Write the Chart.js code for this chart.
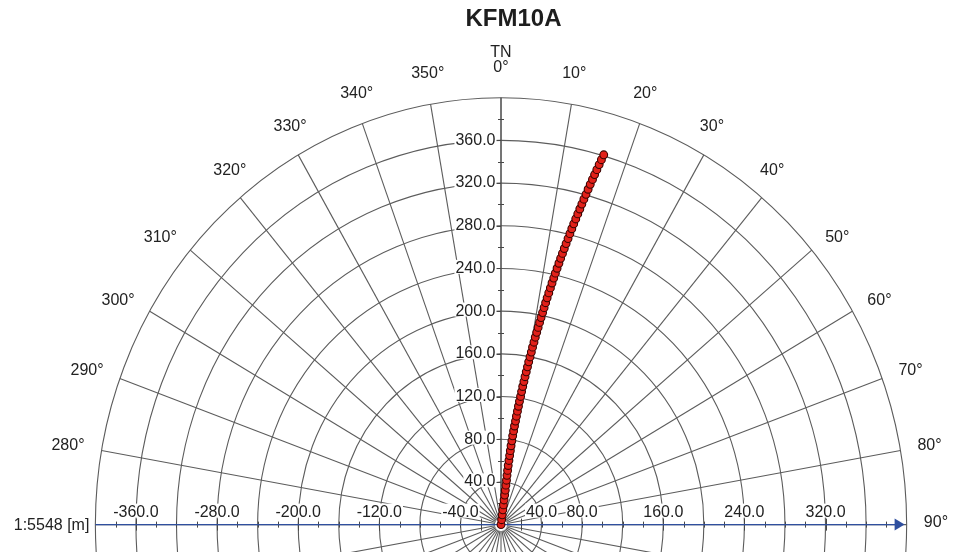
<!DOCTYPE html>
<html>
<head>
<meta charset="utf-8">
<title>KFM10A</title>
<script src="https://cdn.jsdelivr.net/npm/chart.js@4/dist/chart.umd.min.js"></script>
<style>
  html, body { margin: 0; padding: 0; background: #ffffff; }
  #wrap { width: 954px; height: 552px; }
</style>
</head>
<body>
<div id="wrap"><canvas id="chart" width="954" height="552"></canvas></div>
<script>
// Plan view of borehole KFM10A: horizontal offsets of the hole trace from the collar (metres).
const east = [0, 0.6, 1.2, 1.8, 2.4, 3.0, 3.6, 4.2, 4.8, 5.4, 5.9, 6.5, 7.1, 7.8, 8.5, 9.2, 9.9,
  10.7, 11.5, 12.4, 13.3, 14.3, 15.2, 16.2, 17.2, 18.2, 19.3, 20.3, 21.4, 22.6, 23.7, 24.9, 26.1,
  27.3, 28.6, 29.9, 31.1, 32.5, 33.8, 35.2, 36.6, 38.0, 39.5, 41.0, 42.5, 44.0, 45.5, 47.1, 48.7,
  50.3, 52.0, 53.6, 55.3, 57.1, 58.8, 60.6, 62.4, 64.2, 66.1, 67.9, 69.8, 71.7, 73.7, 75.7, 77.7,
  79.7, 81.7, 83.8, 85.9, 88.0, 90.2, 92.3, 94.5, 96.8, 99.0, 101.3];
const north = [0, 4.6, 9.2, 13.9, 18.5, 23.1, 27.7, 32.3, 37.0, 41.6, 46.2, 50.8, 55.4, 60.1, 64.7,
  69.3, 73.9, 78.5, 83.2, 87.8, 92.4, 97.0, 101.6, 106.3, 110.9, 115.5, 120.1, 124.7, 129.4, 134.0,
  138.6, 143.2, 147.8, 152.5, 157.1, 161.7, 166.3, 170.9, 175.6, 180.2, 184.8, 189.4, 194.0, 198.7,
  203.3, 207.9, 212.5, 217.1, 221.8, 226.4, 231.0, 235.6, 240.2, 244.9, 249.5, 254.1, 258.7, 263.3,
  268.0, 272.6, 277.2, 281.8, 286.4, 291.1, 295.7, 300.3, 304.9, 309.5, 314.2, 318.8, 323.4, 328.0,
  332.6, 337.3, 341.9, 346.5];

// Polar grid and axis annotation
const ringRadii = [40, 80, 120, 160, 200, 240, 280, 320, 360, 400];
const spokeAngles = [0, 10, 20, 30, 40, 50, 60, 70, 80, 90, 100, 110, 120, 130, 140, 150, 160, 170,
  180, 190, 200, 210, 220, 230, 240, 250, 260, 270, 280, 290, 300, 310, 320, 330, 340, 350];
const angleLabels = [280, 290, 300, 310, 320, 330, 340, 350, 0, 10, 20, 30, 40, 50, 60, 70, 80, 90];
const northTickLabels = [40, 80, 120, 160, 200, 240, 280, 320, 360];
const eastTickLabels = [-360, -280, -200, -120, -40, 40, 80, 160, 240, 320];
const eastMajorTicks = [-360, -280, -200, -120, -20, 20, 160, 240, 320];
const titleText = 'KFM10A';
const northMark = 'TN';
const scaleText = '1:5548 [m]';

// Geometry of the plot on the canvas
const W = 954, H = 552;
const CX = 503.5, CY = 529.5;        // collar position
const KX = 1.02, KY = 1.078;         // pixels per metre along east / north
const PAD_L = 73;
const TITLE_FONT = 24, TITLE_LH = 1.2, TITLE_PAD = { top: 5, bottom: 3 };
const AREA_TOP = TITLE_PAD.top + TITLE_FONT * TITLE_LH + TITLE_PAD.bottom;
const R_MAX = 400, SPOKE_START = 6, ARROW_TIP = 398, LABEL_R = 416, TICK_STEP = 20;

const FONT = '"Liberation Sans", Arial, Helvetica, sans-serif';
const GRID = '#5c5c5c', AXIS = '#474747', AXIS_BLUE = '#2f4f9f', TEXT = '#222222';

function strokeLine(ctx, x0, y0, x1, y1) {
  ctx.beginPath(); ctx.moveTo(x0, y0); ctx.lineTo(x1, y1); ctx.stroke();
}

function boxedText(ctx, str, x, y, align, baseline) {
  ctx.textAlign = align; ctx.textBaseline = baseline;
  const m = ctx.measureText(str);
  const w = m.width;
  const left = align === 'right' ? x - w : align === 'center' ? x - w / 2 : x;
  ctx.fillStyle = '#ffffff';
  ctx.fillRect(left - 1, y - m.actualBoundingBoxAscent - 1, w + 2,
    m.actualBoundingBoxAscent + m.actualBoundingBoxDescent + 2);
  ctx.fillStyle = TEXT;
  ctx.fillText(str, x, y);
}

const polarGrid = {
  id: 'polarGrid',
  beforeDatasetsDraw(chart) {
    const { ctx, scales: { x, y } } = chart;
    const px = v => x.getPixelForValue(v);
    const py = v => y.getPixelForValue(v);
    const cx = px(0), cy = py(0);
    const kx = px(1) - cx, ky = cy - py(1);
    const pt = (r, deg) => {
      const a = deg * Math.PI / 180;
      return [px(r * Math.sin(a)), py(r * Math.cos(a))];
    };

    ctx.save();
    ctx.lineWidth = 1.1;

    // distance rings
    ctx.strokeStyle = GRID;
    ringRadii.forEach(r => {
      ctx.beginPath();
      ctx.ellipse(cx, cy, r * kx, r * ky, 0, 0, Math.PI * 2);
      ctx.stroke();
    });

    // azimuth spokes
    spokeAngles.forEach(d => {
      const [x0, y0] = pt(SPOKE_START, d);
      const [x1, y1] = pt(R_MAX, d);
      strokeLine(ctx, x0, y0, x1, y1);
    });

    ctx.lineWidth = 1;
    ctx.font = `16px ${FONT}`;

    // north axis with ticks and labels
    ctx.strokeStyle = AXIS;
    strokeLine(ctx, cx, cy, cx, py(R_MAX));
    for (let v = TICK_STEP; v < R_MAX; v += TICK_STEP) {
      const yy = Math.round(py(v)) + 0.5;
      if (northTickLabels.includes(v)) strokeLine(ctx, cx - 5, yy, cx, yy);
      else strokeLine(ctx, cx - 3, yy, cx + 3, yy);
    }
    northTickLabels.forEach(v => boxedText(ctx, v.toFixed(1), cx - 5.5, py(v), 'right', 'middle'));

    // east axis (blue arrow) with ticks and labels
    eastTickLabels.forEach(v => boxedText(ctx, v.toFixed(1), px(v), cy - 8, 'center', 'alphabetic'));
    ctx.strokeStyle = AXIS;
    for (let v = -R_MAX + TICK_STEP; v < R_MAX; v += TICK_STEP) {
      if (v === 0) continue;
      const xx = Math.round(px(v)) + 0.5;
      const h = eastMajorTicks.includes(v) ? 6 : 3;
      strokeLine(ctx, xx, cy - h, xx, cy + h);
    }
    const tip = px(ARROW_TIP);
    ctx.strokeStyle = AXIS_BLUE;
    ctx.lineWidth = 1.2;
    strokeLine(ctx, px(-R_MAX), cy, tip - 9, cy);
    ctx.fillStyle = AXIS_BLUE;
    ctx.beginPath();
    ctx.moveTo(tip, cy); ctx.lineTo(tip - 10, cy - 6); ctx.lineTo(tip - 10, cy + 6);
    ctx.closePath(); ctx.fill();

    // azimuth labels
    ctx.fillStyle = TEXT;
    angleLabels.forEach(d => {
      const [ax, ay] = pt(LABEL_R, d);
      const fromNorth = Math.min(d, 360 - d);
      const s = d + '°';
      if (fromNorth < 45) {
        ctx.textAlign = 'center'; ctx.textBaseline = 'alphabetic';
        ctx.fillText(s, ax, ay - 9);
      } else {
        ctx.textAlign = d < 180 ? 'left' : 'right'; ctx.textBaseline = 'middle';
        ctx.fillText(s, ax + (d < 180 ? 1 : -1), ay - 2);
      }
    });
    const [nx, ny] = pt(LABEL_R, 0);
    ctx.textAlign = 'center'; ctx.textBaseline = 'alphabetic';
    ctx.fillText(northMark, nx, ny - 24);

    // map scale
    ctx.textAlign = 'right'; ctx.textBaseline = 'middle';
    ctx.fillText(scaleText, px(-R_MAX) - 6, cy + 0.5);

    ctx.restore();
  }
};

new Chart(document.getElementById('chart'), {
  type: 'scatter',
  data: {
    datasets: [{
      label: titleText,
      data: east.map((e, i) => ({ x: e, y: north[i] })),
      pointRadius: 3.9,
      pointBackgroundColor: '#e2211a',
      pointBorderColor: '#3c0402',
      pointBorderWidth: 1.1,
      showLine: false
    }]
  },
  options: {
    responsive: false,
    animation: false,
    layout: { padding: { left: PAD_L, right: 0, top: 0, bottom: 0 } },
    plugins: {
      legend: { display: false },
      tooltip: { enabled: false },
      title: {
        display: true,
        text: titleText,
        color: '#1e1e1e',
        font: { family: FONT, size: TITLE_FONT, weight: 'bold', lineHeight: TITLE_LH },
        padding: TITLE_PAD
      }
    },
    scales: {
      x: { type: 'linear', display: false, bounds: 'data',
           min: -(CX - PAD_L) / KX, max: (W - CX) / KX },
      y: { type: 'linear', display: false, bounds: 'data',
           min: -(H - CY) / KY, max: (CY - AREA_TOP) / KY }
    }
  },
  plugins: [polarGrid]
});
</script>
</body>
</html>
